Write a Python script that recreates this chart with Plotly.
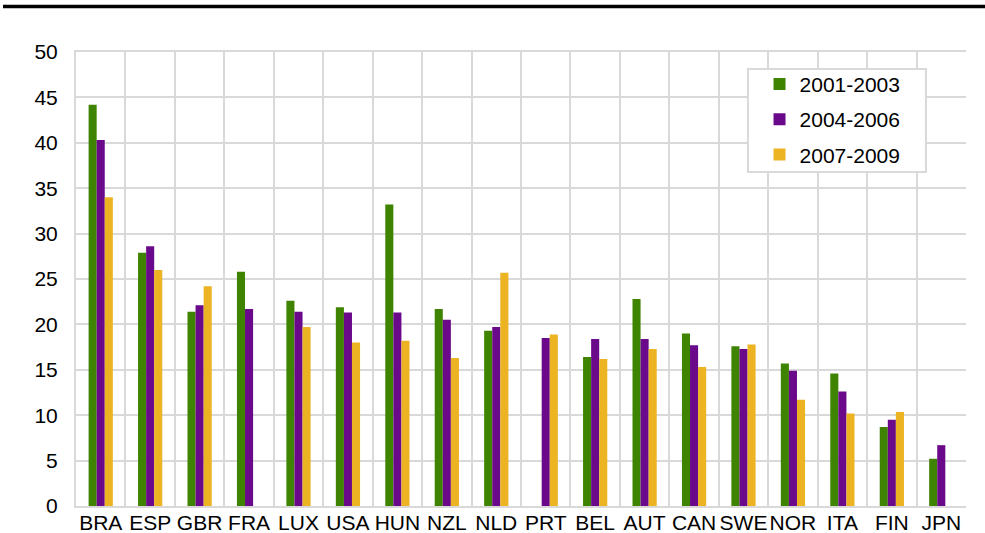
import plotly.graph_objects as go

countries = ["BRA", "ESP", "GBR", "FRA", "LUX", "USA", "HUN", "NZL", "NLD",
             "PRT", "BEL", "AUT", "CAN", "SWE", "NOR", "ITA", "FIN", "JPN"]

p2001_2003 = [44.2, 27.9, 21.4, 25.8, 22.6, 21.9, 33.2, 21.7, 19.3,
              None, 16.4, 22.8, 19.0, 17.6, 15.7, 14.6, 8.7, 5.2]
p2004_2006 = [40.3, 28.6, 22.1, 21.7, 21.4, 21.3, 21.3, 20.5, 19.7,
              18.5, 18.4, 18.4, 17.7, 17.3, 14.9, 12.6, 9.5, 6.7]
p2007_2009 = [34.0, 26.0, 24.2, None, 19.7, 18.0, 18.2, 16.3, 25.7,
              18.9, 16.2, 17.3, 15.3, 17.8, 11.7, 10.2, 10.35, None]

series = [
    ("2001-2003", p2001_2003, "#3f8400"),
    ("2004-2006", p2004_2006, "#6a0a8a"),
    ("2007-2009", p2007_2009, "#ecb322"),
]

GRID = "#d9d9d9"
FONT = "Liberation Sans, Arial, sans-serif"

fig = go.Figure()
for i, (name, vals, col) in enumerate(series):
    fig.add_trace(go.Bar(
        x=countries, y=vals, name=name,
        marker=dict(color=col, line=dict(width=0)),
        legendgroup=f"g{i}",
    ))

fig.update_layout(
    width=985, height=533,
    margin=dict(l=76, r=19, t=52, b=27),
    plot_bgcolor="white", paper_bgcolor="white",
    barmode="group", bargap=0.51, bargroupgap=0,
    font=dict(family=FONT, size=21, color="black"),
    legend=dict(
        x=0.768, y=0.974, xanchor="left", yanchor="top",
        bgcolor="rgba(0,0,0,0)", borderwidth=0,
        font=dict(size=21), tracegroupgap=5,
        itemwidth=30,
    ),
    showlegend=True,
)

fig.update_xaxes(
    type="category", tickson="boundaries", automargin=False,
    showgrid=True, gridcolor=GRID, gridwidth=2,
    showline=True, linecolor=GRID, linewidth=2, mirror=True,
    ticks="", tickangle=0, tickfont=dict(size=21),
    ticklabelstandoff=-3,
)
fig.update_yaxes(
    range=[0, 50], dtick=5, automargin=False,
    showgrid=True, gridcolor=GRID, gridwidth=2,
    showline=True, linecolor=GRID, linewidth=2,
    zeroline=False, ticks="", tickfont=dict(size=21),
    ticklabelstandoff=12,
)

# legend frame
fig.add_shape(type="rect", xref="paper", yref="paper",
              x0=0.755, x1=0.955, y0=0.7357, y1=0.9626,
              fillcolor="white", line=dict(color=GRID, width=2), layer="above")

# heavy rule at the top of the figure
fig.add_shape(type="line", xref="paper", yref="paper",
              x0=-0.082, x1=1.025, y0=1.1, y1=1.1,
              line=dict(color="black", width=3.5))

fig.write_html("out.html", config={"displayModeBar": False},
               post_script="document.body.style.margin='0';")
